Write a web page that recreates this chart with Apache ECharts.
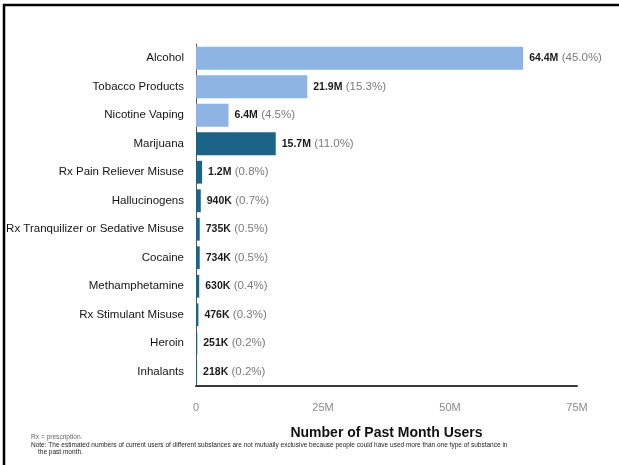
<!DOCTYPE html>
<html>
<head>
<meta charset="utf-8">
<script src="https://cdn.jsdelivr.net/npm/echarts@6/dist/echarts.min.js"></script>
<style>
  html, body { margin: 0; padding: 0; background: #fff; }
  #chart { width: 619px; height: 465px; }
</style>
</head>
<body>
<div id="chart"></div>
<script>
// Past-month substance use, people aged 12 or older (millions)
const categories = [
  'Alcohol', 'Tobacco Products', 'Nicotine Vaping', 'Marijuana',
  'Rx Pain Reliever Misuse', 'Hallucinogens', 'Rx Tranquilizer or Sedative Misuse',
  'Cocaine', 'Methamphetamine', 'Rx Stimulant Misuse', 'Heroin', 'Inhalants'
];
const usersMillions = [64.4, 21.9, 6.4, 15.7, 1.2, 0.94, 0.735, 0.734, 0.63, 0.476, 0.251, 0.218];
const percentOfPopulation = ['45.0', '15.3', '4.5', '11.0', '0.8', '0.7', '0.5', '0.5', '0.4', '0.3', '0.2', '0.2'];
// first three are alcohol/tobacco/nicotine, the rest illicit or misused drugs
const groupOf = ['light', 'light', 'light', 'dark', 'dark', 'dark', 'dark', 'dark', 'dark', 'dark', 'dark', 'dark'];
const xTicks = [0, 25, 50, 75];

const groupColors = { light: '#8db4e2', dark: '#1c6487' };
const FONT = '"Liberation Sans", Arial, sans-serif';

function fmtUsers(v) {
  return v >= 1 ? v.toFixed(1) + 'M' : Math.round(v * 1000) + 'K';
}

const chart = echarts.init(document.getElementById('chart'), null, { renderer: 'canvas' });

chart.setOption({
  backgroundColor: '#ffffff',
  animation: false,
  textStyle: { fontFamily: FONT },
  grid: { left: 196, right: 42, top: 44, bottom: 79, containLabel: false, outerBoundsMode: 'none' },
  xAxis: {
    type: 'value',
    min: xTicks[0],
    max: xTicks[xTicks.length - 1],
    interval: xTicks[1] - xTicks[0],
    name: 'Number of Past Month Users',
    nameLocation: 'middle',
    nameGap: 40,
    nameTextStyle: { fontFamily: FONT, fontSize: 14, fontWeight: 'bold', color: '#111' },
    axisLine: { show: true, lineStyle: { color: '#3a3a3a', width: 2 } },
    axisTick: { show: false },
    splitLine: { show: false },
    axisLabel: {
      margin: 16,
      color: '#8a8a8a',
      fontFamily: FONT,
      fontSize: 11,
      formatter: v => (v === 0 ? '0' : v + 'M')
    }
  },
  yAxis: {
    type: 'category',
    inverse: true,
    data: categories,
    axisLine: { show: true, lineStyle: { color: '#555', width: 1 } },
    axisTick: { show: false },
    axisLabel: { margin: 12, color: '#141414', fontFamily: FONT, fontSize: 11.5 }
  },
  series: [{
    type: 'bar',
    barWidth: '80%',
    data: usersMillions.map((v, i) => ({
      value: v,
      itemStyle: { color: groupColors[groupOf[i]] }
    })),
    label: {
      show: true,
      position: 'right',
      distance: 6,
      formatter: p => '{b|' + fmtUsers(p.value) + '} {p|(' + percentOfPopulation[p.dataIndex] + '%)}',
      rich: {
        b: { fontFamily: FONT, fontSize: 10.5, fontWeight: 'bold', color: '#1a1a1a' },
        p: { fontFamily: FONT, fontSize: 11.5, color: '#7a7a7a' }
      }
    }
  }],
  graphic: [
    // page frame
    { type: 'line', shape: { x1: 3, y1: 5, x2: 619, y2: 5 }, style: { stroke: '#000', lineWidth: 2.5 } },
    { type: 'line', shape: { x1: 4, y1: 4, x2: 4, y2: 465 }, style: { stroke: '#000', lineWidth: 2.5 } },
    // footnotes
    { type: 'text', left: 31, top: 433.5, style: { text: 'Rx = prescription.', fontFamily: FONT, fontSize: 6.6, fill: '#666' } },
    { type: 'text', left: 31, top: 441.5, style: {
        text: 'Note: The estimated numbers of current users of different substances are not mutually exclusive because people could have used more than one type of substance in',
        fontFamily: FONT, fontSize: 6.5, fill: '#222' } },
    { type: 'text', left: 38, top: 449, style: { text: 'the past month.', fontFamily: FONT, fontSize: 6.5, fill: '#222' } }
  ]
});
</script>
</body>
</html>
